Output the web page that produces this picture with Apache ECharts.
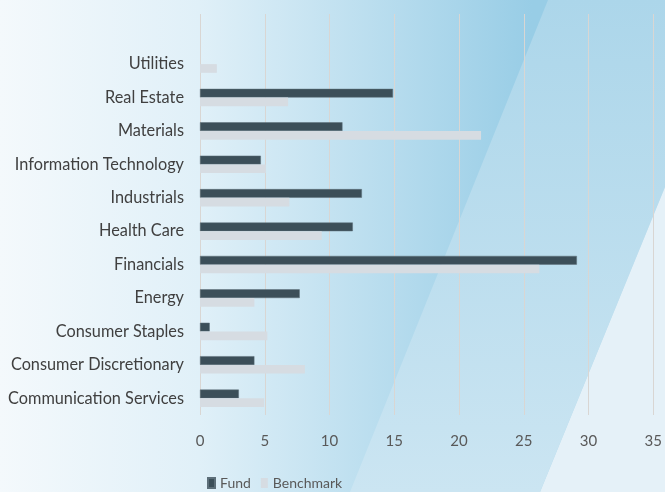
<!DOCTYPE html>
<html>
<head>
<meta charset="utf-8">
<script src="https://cdn.jsdelivr.net/npm/echarts@6/dist/echarts.min.js"></script>
<style>
html,body{margin:0;padding:0;background:#fff;}
#chart{width:665px;height:492px;}
</style>
</head>
<body>
<div id="chart"></div>
<script>
// Categories from bottom to top; the last empty entry is the blank top slot
const categories = ['Communication Services','Consumer Discretionary','Consumer Staples','Energy','Financials','Health Care','Industrials','Information Technology','Materials','Real Estate','Utilities',''];
const fundValues = [3.0, 4.2, 0.75, 7.7, 29.1, 11.8, 12.5, 4.7, 11.0, 14.9, null, null];
const benchmarkValues = [4.95, 8.1, 5.2, 4.2, 26.2, 9.4, 6.9, 5.1, 21.7, 6.8, 1.3, null];
const xTicks = [0, 5, 10, 15, 20, 25, 30, 35];

const font = 'Lato';
const chart = echarts.init(document.getElementById('chart'), null, {renderer: 'canvas'});
chart.setOption({
  animation: false,
  graphic: [
    {type: 'rect', silent: true, z: -10, shape: {x: 0, y: 0, width: 665, height: 492},
      style: {fill: new echarts.graphic.LinearGradient(0, 0, 1, 0, [
        {offset: 0, color: '#f4f9fc'}, {offset: 0.3, color: '#e0f0f8'}, {offset: 0.8, color: '#98cde6'}, {offset: 1, color: '#98cde6'}])}},
    {type: 'polygon', silent: true, z: -9, shape: {points: [[548,0],[665,0],[665,187],[540,492],[350,492]]},
      style: {fill: new echarts.graphic.LinearGradient(0, 0, 0, 1, [
        {offset: 0, color: '#acd6ea'}, {offset: 1, color: '#cbe5f2'}])}},
    {type: 'polygon', silent: true, z: -8, shape: {points: [[665,187],[665,492],[540,492]]},
      style: {fill: '#e5f1f8'}}
  ],
  legend: {
    data: ['Fund', 'Benchmark'],
    top: 476,
    left: 207,
    padding: 0,
    itemWidth: 7, itemHeight: 10, itemGap: 10,
    icon: 'rect',
    textStyle: {fontFamily: font, fontSize: 14, color: '#595959'}
  },
  grid: {left: 200, right: 10, top: 14, bottom: 77, containLabel: false},
  xAxis: {
    type: 'value', min: xTicks[0], max: xTicks[xTicks.length-1], interval: 5,
    axisLine: {show: false}, axisTick: {show: false},
    splitLine: {show: true, lineStyle: {color: '#d9d6d3', width: 1}},
    axisLabel: {fontFamily: font, fontSize: 15, color: '#595959', margin: 19}
  },
  yAxis: {
    type: 'category', data: categories,
    axisLine: {show: false}, axisTick: {show: false},
    axisLabel: {fontFamily: font, fontSize: 16.3, color: '#404040', margin: 16}
  },
  series: [
    {name: 'Fund', type: 'bar', data: fundValues, barWidth: 8.7, barGap: '0%',
      itemStyle: {color: '#3c4f59', borderColor: '#5d6f79', borderWidth: 0.5}},
    {name: 'Benchmark', type: 'bar', data: benchmarkValues, barWidth: 8.7, barGap: '0%',
      itemStyle: {color: '#d6dce2'}}
  ]
});
</script>
</body>
</html>
